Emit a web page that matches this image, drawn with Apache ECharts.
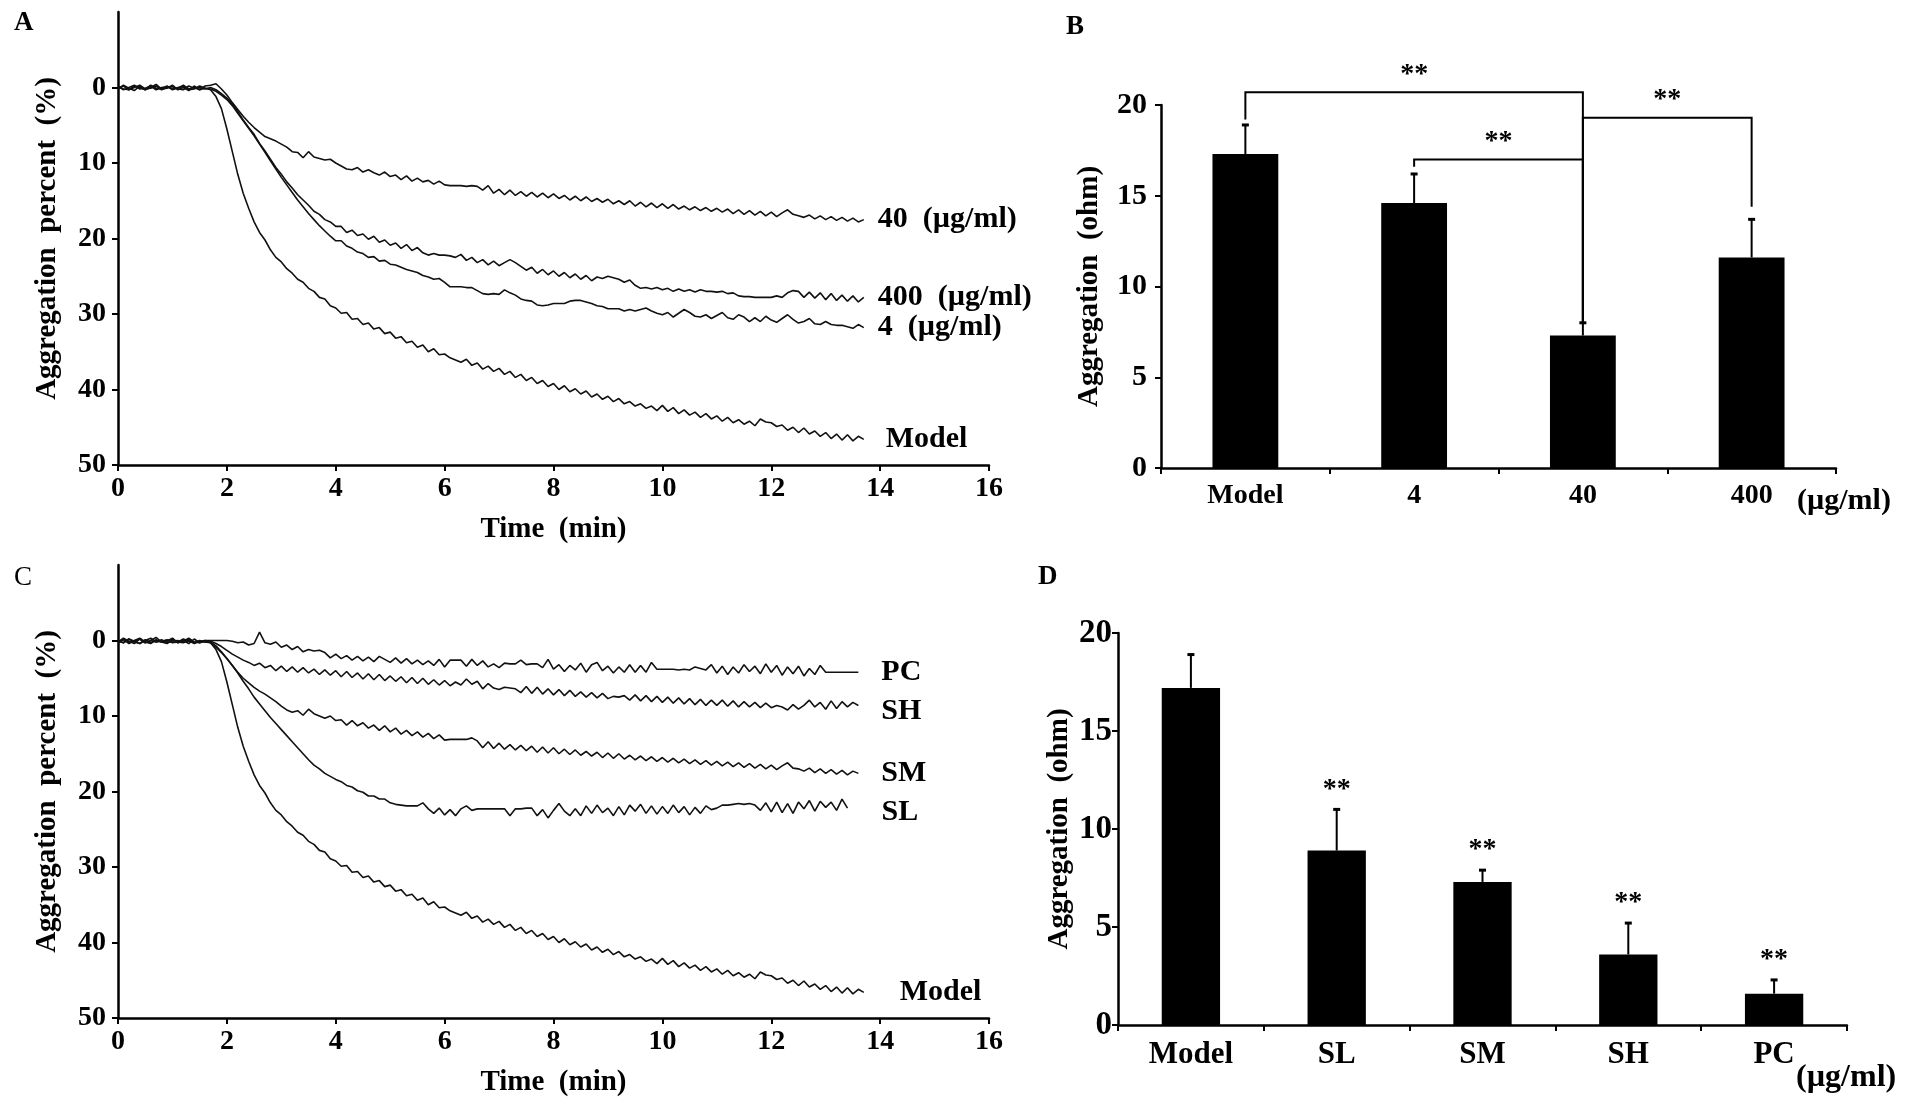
<!DOCTYPE html>
<html>
<head>
<meta charset="utf-8">
<script src="https://cdn.jsdelivr.net/npm/echarts@6/dist/echarts.min.js"></script>
<style>
html,body{margin:0;padding:0;background:#fff;}
#c{width:1913px;height:1113px;}
</style>
</head>
<body>
<div id="c"></div>
<script>
// ---------- DATA ----------
const time = [0,0.1,0.2,0.3,0.4,0.5,0.6,0.7,0.8,0.9,1,1.1,1.2,1.3,1.4,1.5,1.6,1.7,1.8,1.9,
2,2.1,2.2,2.3,2.4,2.5,2.6,2.7,2.8,2.9,3,3.1,3.2,3.3,3.4,3.5,3.6,3.7,3.8,3.9,
4,4.1,4.2,4.3,4.4,4.5,4.6,4.7,4.8,4.9,5,5.1,5.2,5.3,5.4,5.5,5.6,5.7,5.8,5.9,
6,6.1,6.2,6.3,6.4,6.5,6.6,6.7,6.8,6.9,7,7.1,7.2,7.3,7.4,7.5,7.6,7.7,7.8,7.9,
8,8.1,8.2,8.3,8.4,8.5,8.6,8.7,8.8,8.9,9,9.1,9.2,9.3,9.4,9.5,9.6,9.7,9.8,9.9,
10,10.1,10.2,10.3,10.4,10.5,10.6,10.7,10.8,10.9,11,11.1,11.2,11.3,11.4,11.5,11.6,11.7,11.8,11.9,
12,12.1,12.2,12.3,12.4,12.5,12.6,12.7,12.8,12.9,13,13.1,13.2,13.3,13.4,13.5,13.6,13.7];

const model = [0.2,-0.3,0.1,0.4,-0.2,0.3,0,-0.4,0.2,0.1,-0.3,0.3,0,0.4,-0.2,0.3,0.1,
0.3,1.2,2.8,5.5,8.5,11.5,14,16,17.8,19.2,20.2,21.5,22.5,23.1,24,24.6,25.4,25.8,26.6,27,27.8,28,28.9,
29.2,29.9,29.8,30.7,30.6,31.4,31.2,32,31.8,32.6,32.4,33.2,33,33.8,33.6,34.4,34.1,35,34.6,35.4,
35.3,35.8,36.1,36.4,36,36.8,36.5,37.3,36.9,37.6,37.2,38,37.6,38.4,38,38.8,38.4,39.2,38.8,39.6,
39.2,40,39.5,40.3,39.9,40.6,40.2,41,40.6,41.3,40.9,41.6,41.2,41.9,41.6,42.2,41.9,42.5,42.2,42.8,
42.1,42.9,42.4,43.2,42.7,43.4,43,43.7,43.2,43.9,43.5,44.2,43.7,44.4,44,44.6,44.2,44.8,43.9,44.3,
44.4,44.9,44.7,45.4,45,45.7,45.1,45.9,45.5,46.2,45.7,46.5,45.9,46.7,46,46.8,46.2,46.6];

const c40 = [-0.2,0.3,0,-0.3,0.2,0.1,-0.2,0.3,0,-0.1,0.2,0.1,-0.3,0.2,0,0.3,-0.2,
-0.3,-0.5,0.2,1,2,2.9,3.8,4.6,5.3,5.9,6.5,6.8,7.1,7.5,7.9,8.5,8.6,9.3,8.5,9.2,9.4,9.6,9.5,
10,10.4,10.8,10.9,10.6,11.2,10.9,11.3,11.6,11.2,11.8,11.6,12.2,11.7,12.4,12,12.5,12.3,12.8,12.4,
12.9,13,13,13,13.1,13,13.1,13.6,13,14,13.5,14.2,13.6,14.3,13.8,14.4,13.9,14.5,14,14.6,
14.1,14.7,14.3,14.9,14.4,15,14.5,15.1,14.7,15.2,14.8,15.4,15,15.5,15,15.7,15.2,15.8,15.3,15.9,
15.4,16,15.5,16.1,15.7,16.2,15.8,16.3,15.9,16.4,16,16.5,16.1,16.7,16.2,16.8,16.3,16.9,16.4,17,
16.5,17.1,16.6,16.2,16.8,17,17.2,16.9,17.4,17,17.5,17.1,17.6,17.2,17.7,17.3,17.8,17.5];

const c400 = [0.1,-0.2,0.3,0,-0.3,0.2,0.1,-0.2,0.3,0,-0.1,0.2,0.3,-0.2,0.1,0,0.2,
0,0.3,0.8,1.4,2.2,3.2,4.3,5.3,6.2,7.4,8.4,9.5,10.6,11.5,12.5,13.3,14.2,14.9,15.6,16.4,16.8,17.5,17.8,
18.4,18.4,19.2,18.9,19.6,19.4,20.1,19.7,20.5,20.2,20.9,20.6,21.3,20.8,21.6,21.2,21.9,22.2,22,22.2,
22.2,22.3,22.5,22.1,22.9,22.5,23.2,22.8,23.5,23,23.6,23.2,22.8,23.2,23.7,24.2,23.8,24.6,24.1,24.8,
24.3,25,24.5,25.2,24.7,25.4,24.9,25.6,25.1,25.3,25,25.2,25.4,25.8,25.5,26.2,26.6,26.5,26.7,26.5,
26.8,26.6,27,26.7,27,26.8,27.1,26.8,27,27,27.1,27,27.3,27.2,27.6,27.7,27.7,27.8,27.8,27.8,
27.8,27.6,27.8,27.2,26.9,27,27.8,27.1,27.9,27.2,28.1,27.3,28.2,27.5,28.3,27.6,28.4,27.8];

const c4 = [-0.1,0.2,0.3,-0.2,0,0.3,-0.3,0.1,0.2,-0.2,0.3,0,-0.1,0.3,0.2,-0.2,0.1,
0.2,0.5,1,1.6,2.4,3.4,4.4,5.4,6.4,7.5,8.6,9.7,10.8,11.9,12.9,13.9,14.9,15.8,16.7,17.5,18.3,19,19.7,
20.3,20.3,21,21.3,21.8,22,22.5,22.4,23,22.9,23.4,23.5,23.8,24.1,24.3,24.5,24.9,25.1,25.4,25.3,
25.8,26.4,26.4,26.4,26.5,26.5,26.9,27.3,27.4,27.3,27.4,26.8,27.2,27.5,28,28.2,28.3,28.8,28.9,28.8,
28.6,28.6,28.6,28.3,28.2,28.2,28.4,28.6,28.9,29,29.3,29.3,29.3,29.6,29.4,29.6,29.4,29.2,29.6,29.9,
30.1,29.8,30.4,29.9,29.4,29.8,30.3,30.4,30.1,30.6,30.2,29.8,30.5,30.7,30.1,30.4,31,30.5,31,30.3,
30.8,31.1,30.6,30.1,30.7,31.2,31,30.6,31.3,31.4,31,31.4,31.5,31.5,31.7,31.9,31.4,31.8];

const pc = [0.3,-0.2,0.4,0,-0.3,0.2,0.4,-0.1,0.2,0,-0.2,0.3,0.1,-0.3,0.2,0.3,0,
0,0,0,0,0.1,0.3,0.2,0.6,0.4,-1.1,0.3,0.5,0.2,0.9,0.6,1.2,0.8,1.5,1.2,1.4,1.3,1.6,2.3,
1.8,2.4,2,2.6,2.1,2.7,2.2,2.8,2.1,2.5,2.9,2.3,3,2.4,3.1,2.6,3.2,2.7,3.3,2.5,
3.5,2.6,2.6,2.6,3.4,2.5,3.3,2.7,3.5,3.1,3.6,3,3.1,3.1,2.6,3.2,3.1,3.1,3.6,2.5,
3.8,3.2,4.1,3.3,3.9,3,4.2,3.2,2.9,4,3.4,4.3,3.5,4.2,3.2,4.2,3.3,4.2,2.9,3.8,
3.8,3.8,3.8,3.9,3.8,3.9,3.5,3.7,3.9,3.2,4.3,3.4,4.5,3.5,4.3,3.2,4.1,3.4,4.4,3.1,
4.2,3.3,4.6,3.5,4.4,3.4,4.7,3.7,4.5,3.3,4.2,4.2,4.2,4.2,4.2,4.2,4.2];

const sh = [0.1,0.3,-0.2,0.2,0.4,-0.1,0.3,0,0.2,0.4,-0.1,0.2,0.3,0,0.4,0.1,0.2,
0.1,0.4,0.8,1.3,1.8,2.2,2.6,2.9,3.3,3,3.6,3.3,4,3.4,4.1,3.5,4.2,3.6,4.3,3.8,4.5,3.9,4.6,
4,4.8,4.1,4.9,4.3,5.1,4.4,5.2,4.5,5.3,4.7,5.4,4.8,5.6,4.9,5.7,5,5.8,5.2,5.9,
5.3,6,5.5,5.9,5.1,5.8,5.4,6.4,5.7,6.3,6.5,6.2,6.3,6.4,6.9,6.1,7,6.2,7.1,6.4,
7.2,6.5,7.3,6.6,7.4,6.8,7.5,6.9,7.6,7,7.7,7.4,7.5,7.3,7.9,7.2,8,7.3,8.1,7.4,
8.2,7.5,8.3,7.6,8.4,7.7,8.5,7.8,8.6,7.9,8.6,7.9,8.7,8,8.8,8.1,8.8,8.2,8.9,8.3,
8.9,8.6,8.8,9.2,8.5,9.1,8.6,7.9,8.8,8.2,9.1,8,9,8.1,8.8,8.2,8.6];

const sm = [0.2,-0.1,0.3,0.1,-0.2,0.3,0,0.2,-0.1,0.3,0.1,0,0.2,-0.2,0.3,0.1,0,
0.2,0.7,1.5,2.4,3.3,4.2,5,5.6,6.2,6.7,7.1,7.6,8.1,8.7,9.2,9.5,9.3,9.9,9.1,9.7,10,10.3,10,
10.6,10.5,11.2,10.6,11.3,10.9,11.6,11.2,11.9,11.3,12.1,11.6,12.4,11.9,12.6,12.1,12.8,12.3,13,12.5,
13.2,13.1,13.1,13.1,13.1,12.9,13.3,14.2,13.4,14.3,13.6,14.4,13.8,14.5,13.9,14.6,14,14.8,14.1,14.9,
14.2,15,14.4,15.1,14.5,15.2,14.7,15.3,14.8,15.5,14.9,15.6,15,15.7,15.2,15.8,15.3,15.9,15.4,16,
15.5,16.1,15.6,16.2,15.7,16.3,15.8,16.4,15.9,16.5,16,16.6,16.1,16.7,16.2,16.8,16.3,16.9,16.4,17,
16.5,17.1,16.6,16.2,16.9,17,17.3,16.9,17.5,17,17.6,17.1,17.7,17.2,17.8,17.3,17.6];

const sl = [0,0.3,-0.2,0.1,0.4,0,-0.3,0.2,0.1,-0.1,0.3,0.2,-0.2,0.1,0.3,0,0.2,
0.3,0.9,1.6,2.4,3.3,4.3,5.4,6.4,7.5,8.4,9.3,10.2,11,11.8,12.6,13.4,14.2,15,15.8,16.5,17,17.6,18,
18.4,18.7,19.2,19.4,19.9,20.1,20.6,20.6,21,21,21.5,21.7,21.8,21.9,21.9,21.9,21.5,22.3,22.9,22.2,
23.1,22.4,23.2,22.3,21.9,22.5,22.3,22.3,22.3,22.3,22.3,22.3,23.2,22.3,22.3,22.2,22.2,23.2,22.4,23.5,
22.5,21.6,22.6,23.2,22.3,23.2,21.9,22.9,21.8,22.8,22.2,23.2,22,23.1,21.8,22.6,21.7,22.9,21.9,23,
22,22.9,21.8,22.8,22,23.1,22.1,22.9,21.9,22.4,22.2,21.8,21.8,21.7,21.6,21.7,21.6,21.8,22.5,21.5,
22.7,21.4,22.8,21.6,22.9,21.4,22.3,21.2,22.6,21.3,22.1,21.4,22.5,21,22.2];

const pctTicks = [0,10,20,30,40,50];

const bCats = ['Model','4','40','400'];
const bMean = [17.3,14.6,7.3,11.6];
const bErr  = [1.6,1.6,0.7,2.1];
// [fromIdx, toIdx, level, dropFrom, dropTo]
const bBrackets = [[0,2,20.7,19.2,8.0],[1,2,17.0,16.6,8.0],[2,3,19.3,8.0,14.4]];
const bBracketSig = ['**','**','**'];

const dCats = ['Model','SL','SM','SH','PC'];
const dMean = [17.2,8.9,7.3,3.6,1.6];
const dErr  = [1.7,2.1,0.6,1.6,0.7];
const dSig  = ['','**','**','**','**'];

const unitText = '(µg/ml)';

// ---------- CHART ----------
const FONT = 'Liberation Serif';
const chart = echarts.init(document.getElementById('c'), null, {renderer:'canvas'});
const txt = (size) => ({fontFamily:FONT, fontWeight:'bold', fontSize:size, color:'#000'});
const pairs = (arr) => arr.map((v,i)=>[time[i], v]);

function timeX(gi){
  return {gridIndex:gi, type:'value', min:0, max:16, interval:2, position:'bottom',
    axisLine:{onZero:false, lineStyle:{color:'#000', width:2.5}},
    axisTick:{show:true, length:6, lineStyle:{color:'#000', width:2}},
    axisLabel:Object.assign(txt(28),{margin:10}),
    splitLine:{show:false},
    name:'Time  (min)', nameLocation:'middle', nameGap:50,
    nameTextStyle:txt(29)};
}
function pctY(gi){
  return {gridIndex:gi, type:'value', min:-10, max:50, interval:10, inverse:true,
    axisLine:{show:true, onZero:false, lineStyle:{color:'#000', width:2.5}},
    axisTick:{show:true, length:6, customValues:pctTicks, lineStyle:{color:'#000', width:2}},
    axisLabel:Object.assign(txt(28),{margin:12, customValues:pctTicks, formatter:v=> v<0?'':String(v)}),
    splitLine:{show:false},
    name:'Aggregation  percent  (%)', nameLocation:'middle', nameGap:56, nameRotate:90,
    nameTextStyle:txt(29)};
}
function catX(gi, cats, size){
  return {gridIndex:gi, type:'category', data:cats,
    axisLine:{lineStyle:{color:'#000', width:2.5}},
    axisTick:{show:true, length:6, alignWithLabel:false, lineStyle:{color:'#000', width:2}},
    axisLabel:Object.assign(txt(size),{margin:14})};
}
function ohmY(gi, size, gap, margin){
  return {gridIndex:gi, type:'value', min:0, max:20, interval:5,
    axisLine:{show:true, lineStyle:{color:'#000', width:2.5}},
    axisTick:{show:true, length:6, lineStyle:{color:'#000', width:2}},
    axisLabel:Object.assign(txt(size),{margin:margin}),
    splitLine:{show:false},
    name:'Aggregation  (ohm)', nameLocation:'middle', nameGap:gap, nameRotate:90,
    nameTextStyle:txt(29)};
}
function curve(name, arr, gi, label, dist, off){
  return {type:'line', name:name, xAxisIndex:gi, yAxisIndex:gi, data:pairs(arr),
    showSymbol:false, symbol:'none', silent:true,
    lineStyle:{color:'#111', width:1.6},
    endLabel:Object.assign({show:true, formatter:label, distance:dist, offset:[0, off||0]}, txt(30)),
    z:3};
}
function errSeries(gi, mean, err, sig){
  return {type:'custom', xAxisIndex:gi, yAxisIndex:gi,
    data: mean.map((m,i)=>[i, m, err[i]]),
    renderItem:(params, api)=>{
      const i = api.value(0), m = api.value(1), e = api.value(2);
      const b = api.coord([i, m]);
      const t = api.coord([i, m+e]);
      const children = [
        {type:'line', shape:{x1:b[0], y1:b[1], x2:t[0], y2:t[1]}, style:{stroke:'#000', lineWidth:2}},
        {type:'line', shape:{x1:t[0]-3.5, y1:t[1], x2:t[0]+3.5, y2:t[1]}, style:{stroke:'#000', lineWidth:3}}
      ];
      const s = sig ? sig[params.dataIndex] : '';
      if (s) children.push({type:'text', x:t[0], y:t[1]-6,
        style:{text:s, fontFamily:FONT, fontWeight:'bold', fontSize:28, fill:'#000', align:'center', verticalAlign:'bottom'}});
      return {type:'group', children:children};
    }, z:4};
}
const letter = (t, l, tp, w) => ({type:'text', left:l, top:tp,
  style:{text:t, fontFamily:FONT, fontWeight:w||'bold', fontSize:27, fill:'#000'}});
const unit = (l, tp, size) => ({type:'text', left:l, top:tp,
  style:{text:unitText, fontFamily:FONT, fontWeight:'bold', fontSize:size, fill:'#000'}});

const option = {
  animation:false,
  backgroundColor:'#fff',
  grid:[
    {left:118, top:12, width:871, height:453},
    {left:1161, top:105, width:675, height:363},
    {left:118, top:565, width:871, height:453},
    {left:1118, top:633, width:729, height:392}
  ],
  xAxis:[ timeX(0), catX(1,bCats,28), timeX(2), catX(3,dCats,31) ],
  yAxis:[ pctY(0), ohmY(1,30,57,14), pctY(2), ohmY(3,33,44,6) ],
  graphic:[
    letter('A', 14, 10), letter('B', 1066, 14), letter('C', 14, 564, 'normal'), letter('D', 1038, 564),
    unit(1797, 486, 30), unit(1796, 1062, 32)
  ],
  series:[
    curve('A-40', c40, 0, '40  (µg/ml)', 14),
    curve('A-400', c400, 0, '400  (µg/ml)', 14),
    curve('A-4', c4, 0, '4  (µg/ml)', 14),
    curve('A-Model', model, 0, 'Model', 22),
    curve('C-PC', pc, 2, 'PC', 23),
    curve('C-SH', sh, 2, 'SH', 23, 6),
    curve('C-SM', sm, 2, 'SM', 23),
    curve('C-SL', sl, 2, 'SL', 34, 4),
    curve('C-Model', model, 2, 'Model', 36),
    {type:'bar', xAxisIndex:1, yAxisIndex:1, data:bMean, barWidth:'39%', itemStyle:{color:'#000'}, silent:true},
    errSeries(1, bMean, bErr, null),
    {type:'custom', xAxisIndex:1, yAxisIndex:1, data:bBrackets,
      renderItem:(params, api)=>{
        const a = api.value(0), c = api.value(1), lv = api.value(2), d1 = api.value(3), d2 = api.value(4);
        const p1 = api.coord([a, d1]), p2 = api.coord([a, lv]), p3 = api.coord([c, lv]), p4 = api.coord([c, d2]);
        return {type:'group', children:[
          {type:'polyline', shape:{points:[p1,p2,p3,p4]}, style:{stroke:'#000', lineWidth:2, fill:null}},
          {type:'text', x:(p2[0]+p3[0])/2, y:p2[1]-4,
            style:{text:bBracketSig[params.dataIndex], fontFamily:FONT, fontWeight:'bold', fontSize:28, fill:'#000', align:'center', verticalAlign:'bottom'}}
        ]};
      }, z:5},
    {type:'bar', xAxisIndex:3, yAxisIndex:3, data:dMean, barWidth:'40%', itemStyle:{color:'#000'}, silent:true},
    errSeries(3, dMean, dErr, dSig)
  ]
};
chart.setOption(option);
</script>
</body>
</html>
